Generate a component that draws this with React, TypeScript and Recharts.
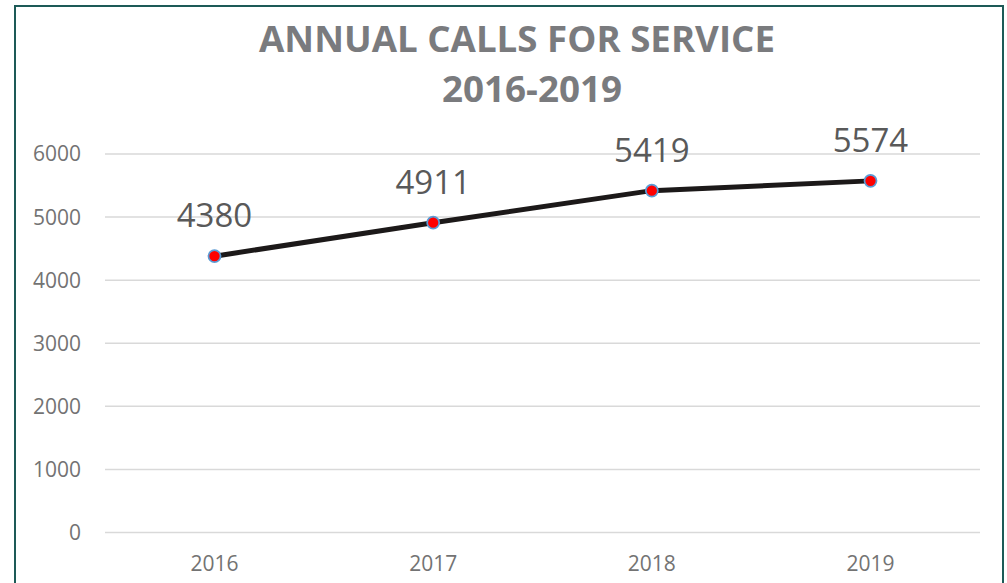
import React from 'react';
import {
  LineChart,
  Line,
  XAxis,
  YAxis,
  CartesianGrid,
  LabelList
} from 'recharts';

const years = ['2016', '2017', '2018', '2019'];
const calls = [4380, 4911, 5419, 5574];
const yTicks = [0, 1000, 2000, 3000, 4000, 5000, 6000];

const titleLine1 = 'ANNUAL CALLS FOR SERVICE';
const titleLine2 = '2016-2019';

const FONT = '"Open Sans", "Noto Sans", sans-serif';

const data = years.map((year, i) => ({ year, calls: calls[i] }));

const ValueLabel = (props: any) => {
  const { x, y, value } = props;
  return (
    <text
      x={x}
      y={y - 29}
      textAnchor="middle"
      fontFamily={FONT}
      fontSize={33}
      fill="#595959"
    >
      {value}
    </text>
  );
};

const App: React.FC = () => {
  return (
    <div
      style={{
        position: 'fixed',
        left: 0,
        top: 0,
        width: 1007,
        height: 583,
        overflow: 'hidden',
        background: '#fff',
        fontFamily: FONT
      }}
    >
      <div style={{ position: 'absolute', left: 0, top: 0 }}>
        <LineChart
          width={1007}
          height={583}
          data={data}
          margin={{ top: 154, right: 27, bottom: 0, left: 0 }}
        >
          <CartesianGrid vertical={false} stroke="#d9d9d9" strokeWidth={1.5} />
          <XAxis
            dataKey="year"
            axisLine={false}
            tickLine={false}
            tickSize={0}
            tickMargin={24}
            height={50.5}
            padding={{ left: 109.5, right: 109.5 }}
            tick={{ fill: '#737373', fontSize: 21, fontFamily: FONT }}
          />
          <YAxis
            domain={[0, 6000]}
            ticks={yTicks}
            width={105}
            axisLine={false}
            tickLine={false}
            tickSize={0}
            tickMargin={24}
            tick={{ fill: '#737373', fontSize: 21, fontFamily: FONT }}
          />
          <Line
            type="linear"
            dataKey="calls"
            stroke="#1c1919"
            strokeWidth={5}
            dot={{ r: 6, fill: '#ff0000', stroke: '#5b9bd5', strokeWidth: 1.75 }}
            activeDot={false}
            isAnimationActive={false}
          >
            <LabelList dataKey="calls" content={<ValueLabel />} />
          </Line>
        </LineChart>
      </div>
      {/* title and frame */}
      <svg
        width={1007}
        height={583}
        style={{ position: 'absolute', left: 0, top: 0, pointerEvents: 'none' }}
      >
        <rect
          x={15}
          y={6}
          width={988}
          height={620}
          fill="none"
          stroke="#1d5a57"
          strokeWidth={2}
        />
        <text
          x={517}
          y={52}
          textAnchor="middle"
          fontFamily={FONT}
          fontWeight="bold"
          fontSize={36}
          fill="#7a7b7e"
          textLength={516}
          lengthAdjust="spacingAndGlyphs"
        >
          {titleLine1}
        </text>
        <text
          x={532}
          y={102}
          textAnchor="middle"
          fontFamily={FONT}
          fontWeight="bold"
          fontSize={36}
          fill="#7a7b7e"
          textLength={180}
          lengthAdjust="spacingAndGlyphs"
        >
          {titleLine2}
        </text>
      </svg>
    </div>
  );
};

export default App;
